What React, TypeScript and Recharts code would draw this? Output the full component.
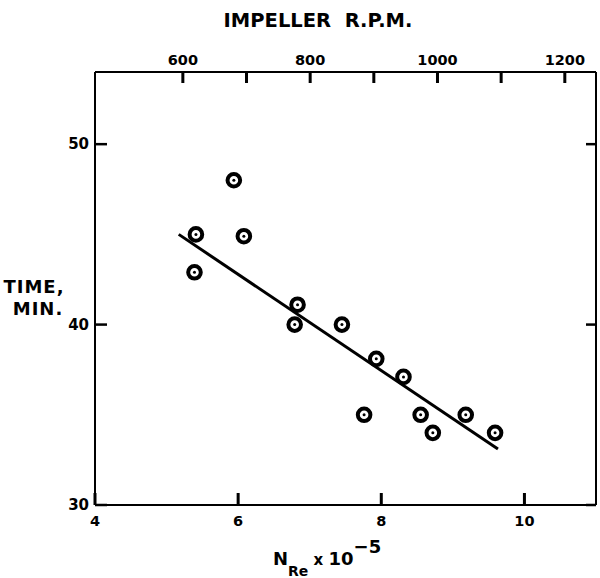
import React from 'react';
import {
  ScatterChart,
  Scatter,
  XAxis,
  YAxis,
  ReferenceLine,
} from 'recharts';

// N_Re x 10^-5 vs mixing time (min)
const nre = [5.41, 5.39, 5.94, 6.08, 6.83, 6.79, 7.45, 7.93, 8.31, 7.76, 8.55, 8.72, 9.18, 9.59];
const timeMin = [45.0, 42.9, 48.0, 44.9, 41.1, 40.0, 40.0, 38.1, 37.1, 35.0, 35.0, 34.0, 35.0, 34.0];

// least squares line drawn on the original
const fitX = [5.17, 9.63];
const fitY = [45.0, 33.1];

const bottomTicks = [4, 6, 8, 10];
const leftTicks = [30, 40, 50];
const rpmTicks = [600, 700, 800, 900, 1000, 1100, 1200];
const rpmLabels = [600, 800, 1000, 1200];

const FONT = '"DejaVu Sans", sans-serif';

const points = nre.map((x, i) => ({ x, y: timeMin[i] }));
// invisible anchor so the top rpm axis gets its ticks
const rpmAnchor = rpmTicks.map((r) => ({ rpm: r, y: 30 }));

const Ring = (props: any) => {
  const { cx, cy } = props;
  return (
    <g>
      <circle cx={cx} cy={cy} r={6.3} fill="#fff" stroke="#000" strokeWidth={4} />
      <circle cx={cx} cy={cy} r={1.5} fill="#000" />
    </g>
  );
};

const renderBottomTick = (props: any) => {
  const x = Number(props.x);
  const y = Number(props.y);
  return (
    <g key={`b-${props.index}`}>
      <rect x={x - 1.5} y={y - 12} width={3} height={12} fill="#000" />
      <text x={x} y={y + 21} textAnchor="middle" fontFamily={FONT} fontWeight="bold" fontSize={14.5} fill="#000">
        {props.payload.value}
      </text>
    </g>
  );
};

const renderTopTick = (props: any) => {
  const x = Number(props.x);
  const y = Number(props.y);
  return (
    <g key={`t-${props.index}`}>
      <rect x={x - 1.5} y={y} width={3} height={11} fill="#000" />
      {rpmLabels.includes(props.payload.value) && (
        <text x={x} y={y - 7} textAnchor="middle" fontFamily={FONT} fontWeight="bold" fontSize={14.5} fill="#000">
          {props.payload.value}
        </text>
      )}
    </g>
  );
};

const renderLeftTick = (props: any) => {
  const x = Number(props.x);
  const y = Number(props.y);
  return (
    <g key={`l-${props.index}`}>
      <rect x={x} y={y - 1.25} width={12} height={2.5} fill="#000" />
      <text x={x - 6} y={y + 5} textAnchor="end" fontFamily={FONT} fontWeight="bold" fontSize={15} fill="#000">
        {props.payload.value}
      </text>
    </g>
  );
};

const renderRightTick = (props: any) => {
  const x = Number(props.x);
  const y = Number(props.y);
  return <rect key={`r-${props.index}`} x={x - 10} y={y - 1.25} width={10} height={2.5} fill="#000" />;
};

const axisLine = { stroke: '#000', strokeWidth: 2 };

export default function App() {
  return (
    <div style={{ position: 'absolute', left: 0, top: 0, width: 600, height: 578, background: '#fff' }}>
      <ScatterChart width={600} height={578} margin={{ top: 71, right: 3, bottom: 72, left: 94 }}>
        <XAxis
          xAxisId={0}
          dataKey="x"
          type="number"
          domain={[4, 11]}
          ticks={bottomTicks}
          height={1}
          tickSize={0}
          tickMargin={0}
          axisLine={axisLine}
          tickLine={false}
          tick={renderBottomTick}
          interval={0}
          allowDataOverflow
        />
        <XAxis
          xAxisId="top"
          orientation="top"
          dataKey="rpm"
          type="number"
          domain={[462, 1249]}
          ticks={rpmTicks}
          height={1}
          tickSize={0}
          tickMargin={0}
          axisLine={axisLine}
          tickLine={false}
          tick={renderTopTick}
          interval={0}
          allowDataOverflow
        />
        <YAxis
          yAxisId={0}
          dataKey="y"
          type="number"
          domain={[30, 54]}
          ticks={leftTicks}
          width={1}
          tickSize={0}
          tickMargin={0}
          axisLine={axisLine}
          tickLine={false}
          tick={renderLeftTick}
          interval={0}
          allowDataOverflow
        />
        <YAxis
          yAxisId="right"
          orientation="right"
          dataKey="y"
          type="number"
          domain={[30, 54]}
          ticks={leftTicks}
          width={1}
          tickSize={0}
          tickMargin={0}
          axisLine={axisLine}
          tickLine={false}
          tick={renderRightTick}
          interval={0}
          allowDataOverflow
        />
        <ReferenceLine
          xAxisId={0}
          yAxisId={0}
          segment={[
            { x: fitX[0], y: fitY[0] },
            { x: fitX[1], y: fitY[1] },
          ]}
          stroke="#000"
          strokeWidth={3}
        />
        <Scatter
          data={rpmAnchor}
          xAxisId="top"
          yAxisId="right"
          shape={() => <g />}
          isAnimationActive={false}
        />
        <Scatter data={points} xAxisId={0} yAxisId={0} shape={<Ring />} isAnimationActive={false} />
      </ScatterChart>
      <svg width={600} height={578} style={{ position: 'absolute', left: 0, top: 0, pointerEvents: 'none' }}>
        <text x={318} y={27} textAnchor="middle" fontFamily={FONT} fontWeight="bold" fontSize={19.5} fill="#000" style={{ whiteSpace: 'pre' }}>
          {'IMPELLER  R.P.M.'}
        </text>
        <text x={34} y={293} textAnchor="middle" fontFamily={FONT} fontWeight="bold" fontSize={18} letterSpacing={1} fill="#000">
          TIME,
        </text>
        <text x={38} y={315} textAnchor="middle" fontFamily={FONT} fontWeight="bold" fontSize={18} letterSpacing={1} fill="#000">
          MIN.
        </text>
        <text x={273} y={565} fontFamily={FONT} fontWeight="bold" fontSize={18} fill="#000">
          <tspan>N</tspan>
          <tspan dy={11} fontSize={14}>Re</tspan>
          <tspan dy={-11} fontSize={15}> x </tspan>
          <tspan fontSize={18}>10</tspan>
          <tspan dy={-12} fontSize={18}>−5</tspan>
        </text>
      </svg>
    </div>
  );
}
